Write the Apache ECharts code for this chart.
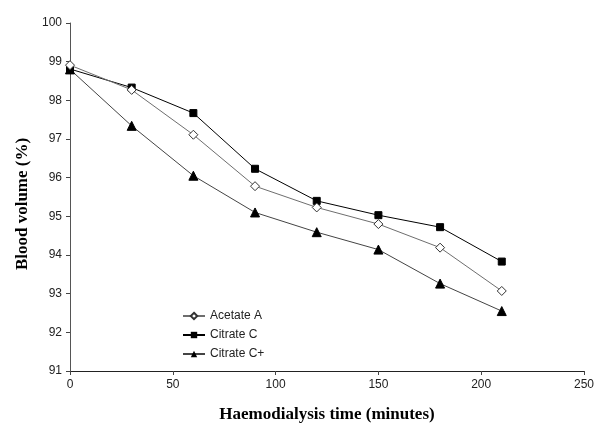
<!DOCTYPE html>
<html>
<head>
<meta charset="utf-8">
<script src="https://cdn.jsdelivr.net/npm/echarts@6/dist/echarts.min.js"></script>
<style>html,body{margin:0;padding:0;background:#fff}#c{width:600px;height:439px}</style>
</head>
<body>
<div id="c"></div>
<script>
const times = [0, 30, 60, 90, 120, 150, 180, 210];
const acetateA = [98.91, 98.27, 97.11, 95.78, 95.23, 94.80, 94.19, 93.07];
const citrateC = [98.81, 98.33, 97.67, 96.23, 95.40, 95.03, 94.72, 93.83];
const citrateCPlus = [98.80, 97.34, 96.05, 95.10, 94.59, 94.14, 93.26, 92.55];
const seriesNames = ['Acetate A', 'Citrate C', 'Citrate C+'];

function pairs(vals) { return times.map((t, i) => [t, vals[i]]); }

const chart = echarts.init(document.getElementById('c'), null, {renderer: 'canvas'});
const tickFont = {fontFamily: 'Liberation Sans, Arial', fontSize: 12, color: '#222'};
chart.setOption({
  animation: false,
  backgroundColor: '#fff',
  grid: {left: 70, right: 16, top: 23, bottom: 68, containLabel: false},
  legend: {
    orient: 'vertical', left: 177, top: 304, itemWidth: 22, itemHeight: 8, itemGap: 5,
    textStyle: {fontFamily: 'Liberation Sans, Arial', fontSize: 12, color: '#222', lineHeight: 14},
    data: seriesNames
  },
  xAxis: {
    type: 'value', min: 0, max: 250, interval: 50,
    name: 'Haemodialysis time (minutes)', nameLocation: 'middle', nameGap: 35,
    nameTextStyle: {fontFamily: 'Liberation Serif, Times New Roman', fontWeight: 'bold', fontSize: 17, color: '#000'},
    axisLine: {show: true, lineStyle: {color: '#222', width: 1}},
    axisTick: {show: true, inside: false, length: 4, lineStyle: {color: '#444'}},
    axisLabel: Object.assign({margin: 8}, tickFont),
    splitLine: {show: false}
  },
  yAxis: {
    type: 'value', min: 91, max: 100, interval: 1,
    name: 'Blood volume (%)', nameLocation: 'middle', nameGap: 30, nameRotate: 90,
    nameTextStyle: {fontFamily: 'Liberation Serif, Times New Roman', fontWeight: 'bold', fontSize: 17, color: '#000', padding: [0, 14, 0, 0]},
    axisLine: {show: true, lineStyle: {color: '#555', width: 1}},
    axisTick: {show: true, inside: false, length: 4, lineStyle: {color: '#444'}},
    axisLabel: Object.assign({margin: 8}, tickFont),
    splitLine: {show: false}
  },
  series: [
    {
      name: seriesNames[0], type: 'line', data: pairs(acetateA),
      symbol: 'diamond', symbolSize: 9, showAllSymbol: true,
      lineStyle: {color: '#6e6e6e', width: 1},
      itemStyle: {color: '#fff', borderColor: '#333', borderWidth: 1}, z: 3
    },
    {
      name: seriesNames[1], type: 'line', data: pairs(citrateC),
      symbol: 'rect', symbolSize: 7, showAllSymbol: true,
      lineStyle: {color: '#000', width: 1},
      itemStyle: {color: '#000', borderColor: '#000'}, z: 2
    },
    {
      name: seriesNames[2], type: 'line', data: pairs(citrateCPlus),
      symbol: 'triangle', symbolSize: 9, showAllSymbol: true,
      lineStyle: {color: '#444', width: 1},
      itemStyle: {color: '#000', borderColor: '#000'}, z: 2
    }
  ]
});
</script>
</body>
</html>
